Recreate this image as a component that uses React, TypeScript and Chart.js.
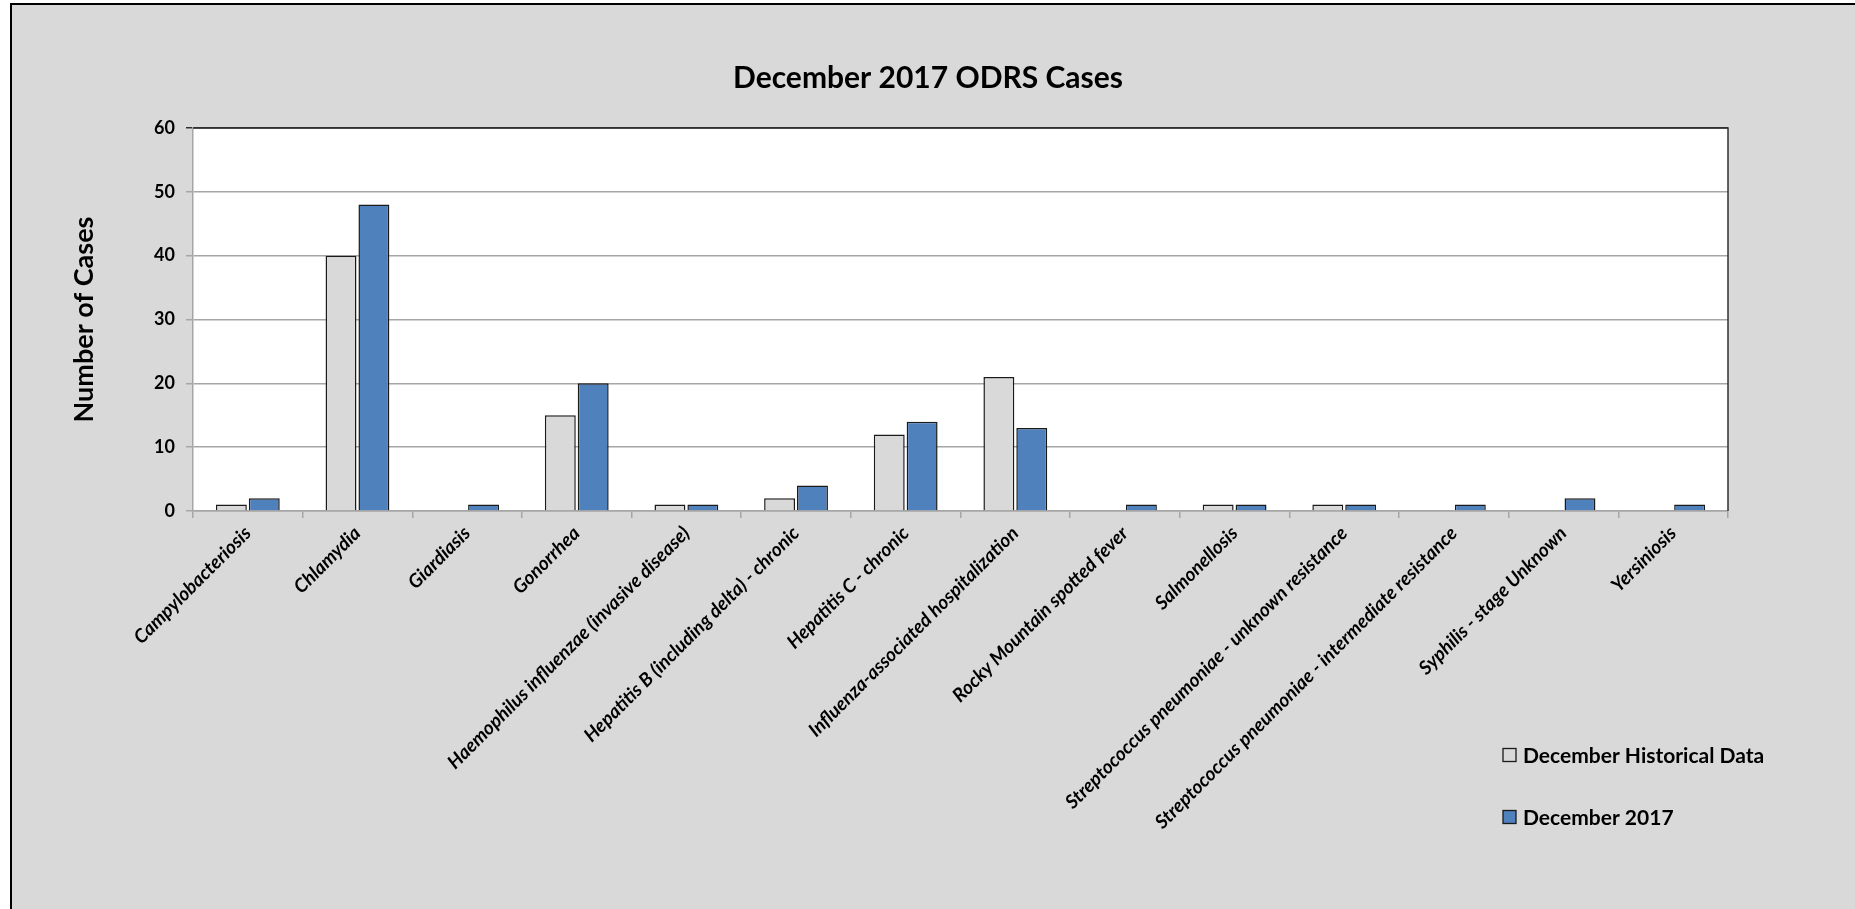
import React, { useEffect, useRef } from 'react';
import { Chart, registerables } from 'chart.js';

Chart.register(...registerables);

const categories = [
  'Campylobacteriosis',
  'Chlamydia',
  'Giardiasis',
  'Gonorrhea',
  'Haemophilus influenzae (invasive disease)',
  'Hepatitis B (including delta) - chronic',
  'Hepatitis C - chronic',
  'Influenza-associated hospitalization',
  'Rocky Mountain spotted fever',
  'Salmonellosis',
  'Streptococcus pneumoniae - unknown resistance',
  'Streptococcus pneumoniae - intermediate resistance',
  'Syphilis - stage Unknown',
  'Yersiniosis',
];
const historicalValues = [1, 40, 0, 15, 1, 2, 12, 21, 0, 1, 1, 0, 0, 0];
const currentValues = [2, 48, 1, 20, 1, 4, 14, 13, 1, 1, 1, 1, 2, 1];
const seriesLabels = ['December Historical Data', 'December 2017'];
const yMin = 0;
const yMax = 60;
const yStep = 10;
const chartTitle = 'December 2017 ODRS Cases';
const yAxisTitle = 'Number of Cases';

const FONT = 'Lato, "Open Sans", sans-serif';
const GRAY_FILL = '#d9d9d9';
const BLUE_FILL = '#4f81bd';
const GRID = '#a6a6a6';

export default function App() {
  const ref = useRef<HTMLCanvasElement | null>(null);

  useEffect(() => {
    const canvas = ref.current;
    if (!canvas) return;

    const plotBg = {
      id: 'plotBg',
      beforeDraw(chart: any) {
        const { ctx, chartArea } = chart;
        ctx.save();
        ctx.fillStyle = '#ffffff';
        ctx.fillRect(chartArea.left, chartArea.top, chartArea.right - chartArea.left, chartArea.bottom - chartArea.top);
        ctx.restore();
      },
    };

    const titleDraw = {
      id: 'titleDraw',
      afterDraw(chart: any) {
        const { ctx } = chart;
        ctx.save();
        ctx.fillStyle = '#000000';
        ctx.font = `bold 30px ${FONT}`;
        ctx.textAlign = 'center';
        ctx.textBaseline = 'middle';
        ctx.fillText(chartTitle, 916, 73);
        ctx.restore();
      },
    };

    const frame = {
      id: 'frame',
      afterDatasetsDraw(chart: any) {
        const { ctx, chartArea } = chart;
        ctx.save();
        ctx.strokeStyle = '#303030';
        ctx.lineWidth = 1.5;
        ctx.beginPath();
        ctx.moveTo(chartArea.left, chartArea.top);
        ctx.lineTo(chartArea.right, chartArea.top);
        ctx.lineTo(chartArea.right, chartArea.bottom);
        ctx.stroke();
        ctx.restore();
      },
    };

    const customLegend = {
      id: 'customLegend',
      afterDraw(chart: any) {
        const { ctx } = chart;
        const x = 1491;
        const ys = [750, 812];
        ctx.save();
        chart.data.datasets.forEach((ds: any, i: number) => {
          const y = ys[i];
          ctx.fillStyle = ds.backgroundColor;
          ctx.fillRect(x, y - 6.5, 13, 13);
          ctx.strokeStyle = '#1a1a1a';
          ctx.lineWidth = 1.3;
          ctx.strokeRect(x, y - 6.5, 13, 13);
          ctx.fillStyle = '#000000';
          ctx.font = `bold 21px ${FONT}`;
          ctx.textBaseline = 'middle';
          ctx.textAlign = 'left';
          ctx.fillText(ds.label, x + 20, y + 1);
        });
        ctx.restore();
      },
    };

    const chart = new Chart(canvas, {
      type: 'bar',
      data: {
        labels: categories,
        datasets: [
          {
            label: seriesLabels[0],
            data: historicalValues,
            backgroundColor: GRAY_FILL,
            borderColor: '#1a1a1a',
            borderWidth: (c: any) => (c.raw === 0 ? 0 : 1.5),
            categoryPercentage: 0.6,
            barPercentage: 0.94,
          },
          {
            label: seriesLabels[1],
            data: currentValues,
            backgroundColor: BLUE_FILL,
            borderColor: '#1a1a1a',
            borderWidth: (c: any) => (c.raw === 0 ? 0 : 1.5),
            categoryPercentage: 0.6,
            barPercentage: 0.94,
          },
        ],
      },
      options: {
        responsive: false,
        animation: false,
        layout: { padding: { left: 0, right: 127, top: 123, bottom: 0 } },
        plugins: {
          legend: { display: false },
          tooltip: { enabled: false },
          title: { display: false },
        },
        scales: {
          x: {
            offset: true,
            grid: {
              display: true,
              drawOnChartArea: false,
              drawTicks: true,
              offset: true,
              tickLength: 7,
              color: GRID,
              lineWidth: 1.5,
            },
            border: { display: true, color: GRID, width: 1.5 },
            ticks: {
              autoSkip: false,
              maxRotation: 45,
              minRotation: 45,
              color: '#000000',
              padding: 4,
              font: { family: FONT, size: 19, weight: 'bold', style: 'italic' },
            },
            afterFit(scale: any) {
              scale.height = 398;
            },
          },
          y: {
            min: yMin,
            max: yMax,
            ticks: {
              stepSize: yStep,
              color: '#000000',
              padding: 11,
              font: { family: FONT, size: 18, weight: 'bold' },
            },
            grid: {
              color: (c: any) => (c.tick && c.tick.value === yMax ? '#303030' : GRID),
              lineWidth: 1.5,
              tickLength: 7,
            },
            border: { display: true, color: GRID, width: 1.5 },
            title: {
              display: true,
              text: yAxisTitle,
              color: '#000000',
              font: { family: FONT, size: 27, weight: 'bold', lineHeight: 1.2 },
              padding: { top: 55.8, bottom: 0 },
            },
            afterFit(scale: any) {
              scale.width = 181;
            },
          },
        },
      },
      plugins: [plotBg, frame, titleDraw, customLegend],
    } as any);

    return () => chart.destroy();
  }, []);

  return (
    <div
      style={{
        position: 'fixed',
        left: 10,
        top: 3,
        width: 1845,
        height: 906,
        background: '#d9d9d9',
        borderLeft: '2px solid #000',
        borderTop: '2px solid #000',
        boxSizing: 'content-box',
      }}
    >
      <canvas ref={ref} width={1843} height={904} style={{ display: 'block', width: 1843, height: 904 }} />
    </div>
  );
}
